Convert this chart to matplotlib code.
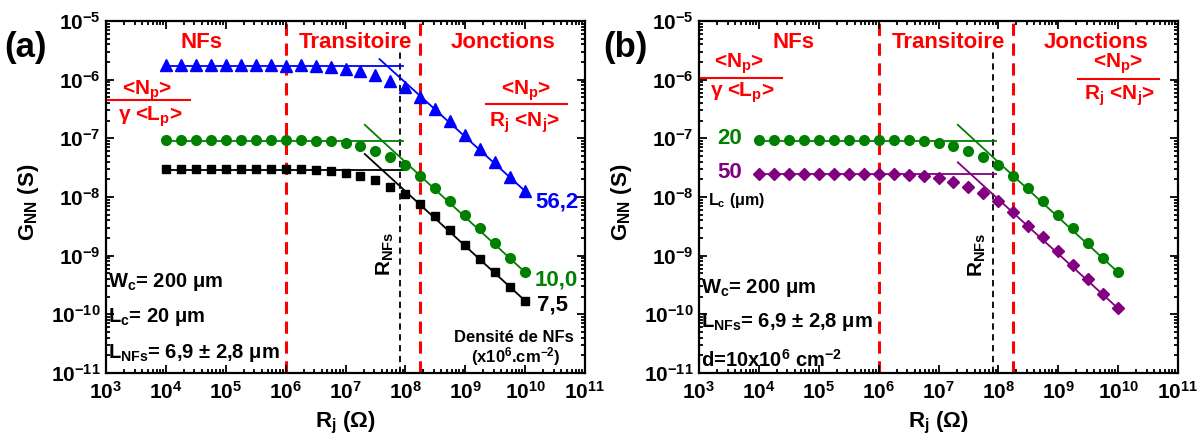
import numpy as np
import matplotlib
matplotlib.use("Agg")
import matplotlib.pyplot as plt
from matplotlib.lines import Line2D
from matplotlib.ticker import LogLocator, FuncFormatter, NullFormatter

plt.rcParams['font.family'] = ['Liberation Sans', 'DejaVu Sans']
plt.rcParams['font.weight'] = 'bold'
plt.rcParams['mathtext.fontset'] = 'custom'
plt.rcParams['mathtext.rm'] = 'Liberation Sans:bold'
plt.rcParams['mathtext.bf'] = 'Liberation Sans:bold'
plt.rcParams['mathtext.it'] = 'Liberation Sans:bold'
plt.rcParams['mathtext.sf'] = 'Liberation Sans:bold'
plt.rcParams['mathtext.default'] = 'bf'

# ---------------- data ----------------
Rj = 10.0 ** np.arange(4, 10.01, 0.25)  # 25 points, 1e4 .. 1e10

G_blue_562 = [1.78e-6, 1.78e-6, 1.78e-6, 1.78e-6, 1.78e-6, 1.78e-6, 1.78e-6, 1.78e-6,
              1.74e-6, 1.78e-6, 1.74e-6, 1.66e-6, 1.55e-6, 1.41e-6, 1.20e-6, 9.5e-7,
              7.4e-7, 5.1e-7, 3.2e-7, 1.95e-7, 1.15e-7, 6.6e-8, 3.9e-8, 2.2e-8, 1.26e-8]
G_green_100 = [9.5e-8, 9.5e-8, 9.5e-8, 9.5e-8, 9.5e-8, 9.5e-8, 9.5e-8, 9.5e-8,
               9.3e-8, 9.3e-8, 9.1e-8, 8.9e-8, 8.3e-8, 7.4e-8, 6.2e-8, 4.9e-8,
               3.5e-8, 2.3e-8, 1.41e-8, 8.5e-9, 5.0e-9, 2.95e-9, 1.62e-9, 9.3e-10, 5.2e-10]
G_black_75 = [2.95e-8, 2.95e-8, 2.95e-8, 2.95e-8, 2.95e-8, 2.95e-8, 2.95e-8, 2.95e-8,
              2.95e-8, 2.95e-8, 2.9e-8, 2.75e-8, 2.57e-8, 2.3e-8, 1.95e-8, 1.51e-8,
              1.12e-8, 7.6e-9, 4.8e-9, 2.75e-9, 1.55e-9, 8.9e-10, 5.2e-10, 2.95e-10, 1.7e-10]
G_green_Lc20 = [9.5e-8, 9.5e-8, 9.5e-8, 9.5e-8, 9.5e-8, 9.5e-8, 9.5e-8, 9.5e-8,
                9.3e-8, 9.3e-8, 9.3e-8, 8.9e-8, 8.3e-8, 7.4e-8, 6.0e-8, 4.8e-8,
                3.5e-8, 2.24e-8, 1.41e-8, 8.5e-9, 4.9e-9, 2.95e-9, 1.62e-9, 9.3e-10, 5.2e-10]
G_purple_Lc50 = [2.5e-8, 2.5e-8, 2.5e-8, 2.5e-8, 2.5e-8, 2.5e-8, 2.5e-8, 2.5e-8,
                 2.5e-8, 2.45e-8, 2.4e-8, 2.3e-8, 2.1e-8, 1.78e-8, 1.51e-8, 1.17e-8,
                 8.5e-9, 5.5e-9, 3.2e-9, 2.05e-9, 1.2e-9, 6.9e-10, 4.0e-10, 2.24e-10, 1.26e-10]

# asymptotic fits: plateau (NFs regime) and 1/R (junction regime)
flat_x = [1e4, 9.1e7]
flat_blue = [1.70e-6, 1.70e-6]
flat_green = [9.1e-8, 9.1e-8]
flat_black = [2.9e-8, 2.9e-8]
flat_purple = [2.45e-8, 2.45e-8]
diag_x_blue = [3.7e7, 1e10]
diag_blue = [2.24e-6, 1.26e-8]
diag_x = [2.1e7, 1e10]
diag_green = [1.7e-7, 5.2e-10]
diag_black = [5.4e-8, 1.7e-10]
diag_purple = [3.9e-8, 1.26e-10]

R_boundaries = [1e6, 1.75e8]
R_NFs = 8.2e7

x_ticks = [10.0 ** k for k in range(3, 12)]
y_ticks = [10.0 ** k for k in range(-11, -4)]

BLUE = '#0000FF'
GREEN = '#008000'
PURPLE = '#800080'
RED = '#FF0000'

W, H = 1204, 436
fig = plt.figure(figsize=(W / 100, H / 100), dpi=100)
axa = fig.add_axes([106 / W, 1 - 373 / H, 479 / W, 352 / H])
axb = fig.add_axes([699 / W, 1 - 373 / H, 479 / W, 352 / H])


def fx(px):
    return px / W


def fy(py):
    return 1 - py / H


def style_axis(ax):
    ax.set_xscale('log')
    ax.set_yscale('log')
    ax.set_xlim(1e3, 1e11)
    ax.set_ylim(1e-11, 1e-5)
    ax.set_xticks(x_ticks)
    ax.set_yticks(y_ticks)
    fmt = FuncFormatter(lambda v, p: r'$\mathbf{10^{%d}}$' % int(round(np.log10(v))))
    ax.xaxis.set_major_formatter(fmt)
    ax.yaxis.set_major_formatter(fmt)
    ax.xaxis.set_minor_locator(LogLocator(base=10, subs=np.arange(2, 10), numticks=100))
    ax.yaxis.set_minor_locator(LogLocator(base=10, subs=np.arange(2, 10), numticks=100))
    ax.xaxis.set_minor_formatter(NullFormatter())
    ax.yaxis.set_minor_formatter(NullFormatter())
    ax.tick_params(which='both', direction='in', top=True, right=True, width=1.3)
    ax.tick_params(which='major', length=6, labelsize=15)
    ax.tick_params(which='minor', length=3)
    ax.tick_params(axis='x', pad=6)
    ax.tick_params(axis='y', pad=4)
    for s in ax.spines.values():
        s.set_linewidth(1.6)
    ax.set_xlabel(r'R$_\mathbf{j}$ ($\Omega$)', fontsize=16, fontweight='bold')
    ax.set_ylabel(r'G$_\mathbf{NN}$ (S)', fontsize=16, fontweight='bold')
    ax.xaxis.set_label_coords(0.5, -0.105)
    ax.yaxis.set_label_coords(-0.135, 0.486)
    for xb in R_boundaries:
        ax.axvline(xb, color=RED, lw=2.2, ls=(0, (4, 2.5)), zorder=1)
    ax.vlines(R_NFs, 1e-11, 10 ** -5.53, color='black', lw=1.3, ls=(0, (3.5, 2.5)), zorder=1)


style_axis(axa)
style_axis(axb)

# ---- panel (a) ----
axa.plot(Rj, G_blue_562, ls='none', marker='^', ms=8, color=BLUE, zorder=3)
axa.plot(Rj, G_green_100, ls='none', marker='o', ms=7, color=GREEN, zorder=3)
axa.plot(Rj, G_black_75, ls='none', marker='s', ms=5.5, color='black', zorder=3)
axa.plot(flat_x, flat_blue, color=BLUE, lw=1.3, zorder=2)
axa.plot(diag_x_blue, diag_blue, color=BLUE, lw=1.3, zorder=2)
axa.plot(flat_x, flat_green, color=GREEN, lw=1.3, zorder=2)
axa.plot(diag_x, diag_green, color=GREEN, lw=1.3, zorder=2)
axa.plot(flat_x, flat_black, color='black', lw=1.3, zorder=2)
axa.plot(diag_x, diag_black, color='black', lw=1.3, zorder=2)

# ---- panel (b) ----
axb.plot(Rj, G_green_Lc20, ls='none', marker='o', ms=7, color=GREEN, zorder=3)
axb.plot(Rj, G_purple_Lc50, ls='none', marker='D', ms=6.5, color=PURPLE, zorder=3)
axb.plot([1e4, 9.3e7], flat_green, color=GREEN, lw=1.3, zorder=2)
axb.plot(diag_x, diag_green, color=GREEN, lw=1.3, zorder=2)
axb.plot([1e4, 9.3e7], flat_purple, color=PURPLE, lw=1.3, zorder=2)
axb.plot(diag_x, diag_purple, color=PURPLE, lw=1.3, zorder=2)


def T(px, py, s, **kw):
    kw.setdefault('ha', 'center')
    kw.setdefault('va', 'center')
    kw.setdefault('fontweight', 'bold')
    fig.text(fx(px), fy(py), s, **kw)


def hline(x0, x1, y, color=RED):
    fig.add_artist(Line2D([fx(x0), fx(x1)], [fy(y), fy(y)], color=color, lw=1.5))


# panel labels
T(26, 47, '(a)', fontsize=25)
T(625, 47, '(b)', fontsize=25)

# regime labels
for px, s in [(202, 'NFs'), (355, 'Transitoire'), (503, 'Jonctions'),
              (793, 'NFs'), (948, 'Transitoire'), (1096, 'Jonctions')]:
    T(px, 42, s, fontsize=16, color=RED)

# fractions panel (a)
T(147, 95, r'<N$_\mathbf{p}$>', fontsize=15, color=RED, va='baseline')
hline(108, 190, 100)
T(150, 121, r'$\gamma$ <L$_\mathbf{p}$>', fontsize=15, color=RED, va='baseline')
T(526, 95, r'<N$_\mathbf{p}$>', fontsize=15, color=RED, va='baseline')
hline(486, 567, 104)
T(525, 127, r'R$_\mathbf{j}$ <N$_\mathbf{j}$>', fontsize=15, color=RED, va='baseline')

# fractions panel (b)
T(739, 68, r'<N$_\mathbf{p}$>', fontsize=15, color=RED, va='baseline')
hline(701, 782, 78)
T(742, 97, r'$\gamma$ <L$_\mathbf{p}$>', fontsize=15, color=RED, va='baseline')
T(1118, 68, r'<N$_\mathbf{p}$>', fontsize=15, color=RED, va='baseline')
hline(1078, 1159, 79)
T(1120, 100, r'R$_\mathbf{j}$ <N$_\mathbf{j}$>', fontsize=15, color=RED, va='baseline')

# series labels (a)
T(535, 202, '56,2', fontsize=16, color=BLUE, ha='left')
T(535, 280, '10,0', fontsize=16, color=GREEN, ha='left')
T(537, 305, '7,5', fontsize=16, color='black', ha='left')
T(514, 337, 'Densité de NFs', fontsize=12, )
T(516, 357, r'(x10$^\mathbf{6}$.cm$^\mathbf{-2}$)', fontsize=12)

# series labels (b)
T(742, 138, '20', fontsize=16, color=GREEN, ha='right')
T(742, 173, '50', fontsize=16, color=PURPLE, ha='right')
T(708, 205, r'L$_\mathbf{c}$ ($\mu$m)', fontsize=11.5, ha='left', va='baseline')

# R_NFs labels
T(385, 254, r'R$_\mathbf{NFs}$', fontsize=15, rotation=90)
T(977, 255, r'R$_\mathbf{NFs}$', fontsize=15, rotation=90)

# parameters
T(108, 287, r'W$_\mathbf{c}$= 200 $\mu$m', fontsize=14.5, ha='left', va='baseline')
T(108, 322, r'L$_\mathbf{c}$= 20 $\mu$m', fontsize=14.5, ha='left', va='baseline')
T(108, 358, r'L$_\mathbf{NFs}$= 6,9 $\pm$ 2,8 $\mu$m', fontsize=14.5, ha='left', va='baseline')
T(701, 293, r'W$_\mathbf{c}$= 200 $\mu$m', fontsize=14.5, ha='left', va='baseline')
T(701, 327, r'L$_\mathbf{NFs}$= 6,9 $\pm$ 2,8 $\mu$m', fontsize=14.5, ha='left', va='baseline')
T(701, 367, r'd=10x10$^\mathbf{6}$ cm$^\mathbf{-2}$', fontsize=14.5, ha='left', va='baseline')

fig.savefig('out.png', dpi=100)
